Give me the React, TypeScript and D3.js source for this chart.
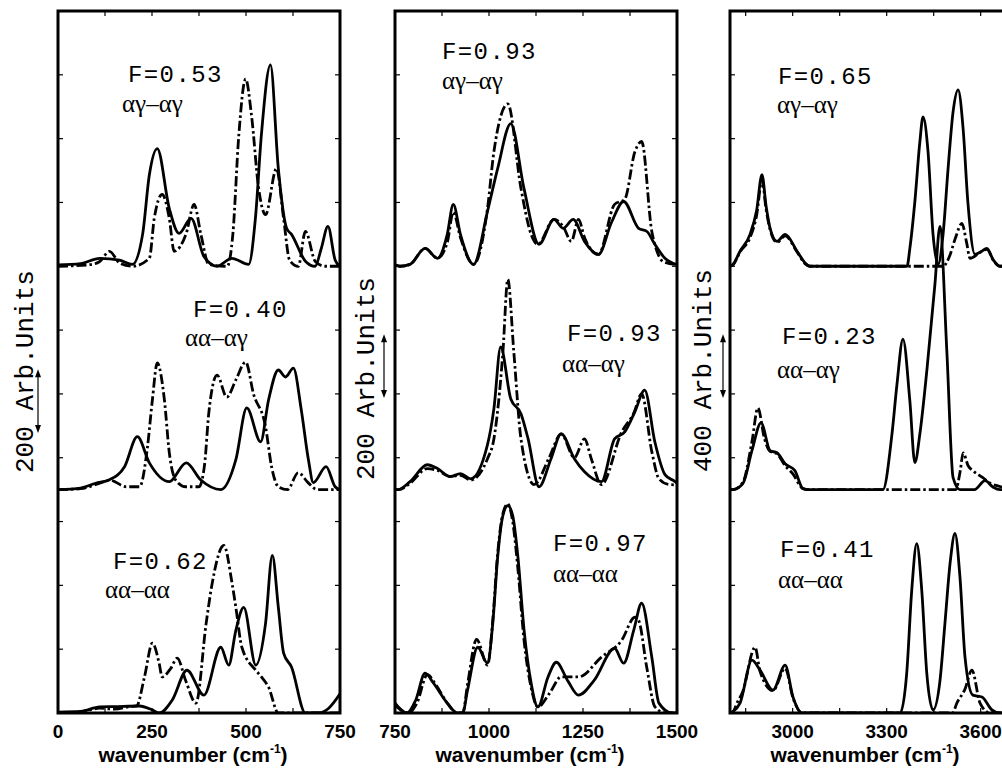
import * as d3 from "d3";

type Pt = [number, number];

// ---- panel 1 (0-750 cm-1), spectra as [wavenumber, intensity above own baseline]
const p1TopSolid: Pt[] = [[0,4],[60,8],[111,25],[164,19],[198,6],[225,100],[243,287],[264,369],[296,181],[322,103],[354,150],[388,31],[423,0],[462,25],[507,6],[525,150],[541,413],[565,631],[586,306],[608,119],[621,100],[658,16],[684,0],[700,55],[718,125],[737,20],[750,0]];
const p1TopDashed: Pt[] = [[0,0],[85,5],[111,15],[137,47],[164,10],[198,0],[243,25],[256,150],[277,225],[296,150],[309,47],[341,103],[362,194],[380,100],[401,6],[450,0],[465,100],[481,413],[499,587],[515,469],[533,250],[552,162],[581,306],[600,150],[616,19],[639,0],[658,109],[684,16],[710,0],[750,0]];
const p1MidSolid: Pt[] = [[0,0],[60,5],[100,20],[137,31],[177,72],[211,166],[243,84],[296,25],[341,84],[380,30],[433,0],[473,94],[502,256],[539,150],[560,281],[586,375],[605,353],[626,381],[647,250],[666,94],[679,22],[713,72],[737,9],[750,0]];
const p1MidDashed: Pt[] = [[0,0],[60,3],[111,20],[137,30],[182,9],[217,9],[238,134],[251,281],[264,397],[283,281],[296,116],[314,28],[340,9],[375,9],[390,80],[401,240],[423,359],[449,290],[473,344],[499,400],[520,300],[552,197],[568,72],[586,9],[610,0],[639,53],[665,22],[690,0],[750,0]];
const p1BotSolid: Pt[] = [[0,3],[60,5],[111,19],[150,20],[217,22],[250,10],[269,0],[304,41],[343,134],[388,56],[433,206],[454,150],[473,259],[494,331],[526,150],[552,281],[570,494],[586,331],[600,188],[621,144],[658,0],[692,0],[720,15],[750,60]];
const p1BotDashed: Pt[] = [[0,0],[60,3],[111,15],[150,12],[190,20],[209,22],[230,113],[251,219],[269,156],[277,113],[300,140],[317,172],[340,100],[367,31],[394,281],[410,406],[441,525],[463,406],[473,331],[489,206],[526,134],[541,113],[560,81],[586,0],[620,0],[750,0]];

// ---- panel 2 (750-1500 cm-1)
const p2TopSolid: Pt[] = [[750,5],[763,0],[790,6],[830,56],[863,25],[889,100],[905,194],[924,100],[959,6],[996,172],[1023,306],[1058,447],[1093,244],[1133,69],[1173,147],[1197,119],[1224,147],[1254,78],[1291,37],[1326,138],[1358,203],[1398,119],[1420,109],[1441,69],[1468,25],[1500,5]];
const p2TopDashed: Pt[] = [[750,5],[763,0],[790,6],[830,56],[863,25],[889,75],[905,170],[924,90],[959,6],[996,181],[1013,359],[1050,509],[1085,244],[1112,100],[1130,69],[1173,147],[1197,125],[1219,78],[1238,147],[1254,90],[1291,37],[1334,194],[1361,210],[1388,359],[1406,391],[1433,109],[1441,69],[1463,15],[1500,5]];
const p2MidSolid: Pt[] = [[750,0],[758,0],[790,25],[836,78],[863,66],[897,41],[924,50],[951,34],[996,141],[1013,253],[1031,447],[1058,284],[1085,238],[1104,159],[1133,9],[1165,97],[1192,175],[1227,97],[1254,56],[1299,25],[1334,159],[1361,181],[1388,244],[1414,312],[1441,150],[1468,47],[1495,25],[1500,20]];
const p2MidDashed: Pt[] = [[750,0],[760,0],[790,20],[836,66],[863,60],[897,41],[924,45],[951,30],[996,97],[1013,159],[1037,431],[1050,659],[1066,431],[1085,159],[1120,16],[1160,100],[1192,175],[1227,100],[1254,159],[1272,97],[1299,16],[1353,181],[1385,240],[1406,300],[1433,119],[1452,34],[1479,16],[1500,15]];
const p2BotSolid: Pt[] = [[750,31],[782,0],[805,40],[830,125],[852,94],[889,31],[916,0],[930,0],[943,72],[970,206],[996,156],[1010,281],[1023,488],[1037,619],[1050,650],[1063,619],[1077,488],[1093,263],[1112,94],[1130,19],[1157,113],[1179,159],[1210,100],[1238,56],[1280,103],[1334,203],[1358,156],[1385,260],[1406,344],[1433,175],[1452,31],[1487,0],[1500,0]];
const p2BotDashed: Pt[] = [[750,25],[785,0],[808,30],[836,120],[858,90],[889,31],[916,0],[930,0],[943,90],[967,231],[996,150],[1010,290],[1023,500],[1037,625],[1050,655],[1063,600],[1077,450],[1093,230],[1112,80],[1130,19],[1160,60],[1192,113],[1238,113],[1299,175],[1353,228],[1388,300],[1398,290],[1420,140],[1441,20],[1470,0],[1500,0]];

// ---- panel 3 (2800-3700 cm-1)
const p3TopSolid: Pt[] = [[2800,0],[2810,12],[2832,94],[2864,200],[2885,350],[2902,575],[2915,380],[2928,238],[2950,156],[2976,200],[3014,94],[3040,20],[3055,0],[3365,0],[3374,112],[3390,406],[3406,781],[3416,937],[3432,719],[3448,200],[3464,12],[3480,200],[3496,612],[3512,969],[3528,1106],[3544,862],[3559,406],[3582,75],[3600,90],[3620,112],[3640,40],[3662,0],[3700,0]];
const p3TopDashed: Pt[] = [[2800,0],[2810,10],[2832,90],[2864,180],[2885,320],[2902,540],[2915,360],[2928,230],[2950,150],[2976,190],[3014,90],[3040,15],[3055,0],[3480,0],[3500,60],[3520,180],[3540,269],[3555,150],[3566,50],[3600,90],[3620,106],[3640,40],[3662,0],[3700,0]];
const p3MidSolid: Pt[] = [[2800,0],[2810,0],[2841,37],[2870,244],[2899,419],[2928,244],[2950,231],[2976,162],[3007,119],[3033,6],[3050,0],[3288,0],[3317,350],[3333,662],[3352,944],[3374,556],[3390,169],[3406,350],[3429,762],[3454,1287],[3470,1650],[3492,869],[3512,75],[3534,0],[3580,0],[3614,56],[3640,15],[3662,0],[3700,0]];
const p3MidDashed: Pt[] = [[2800,0],[2810,0],[2841,45],[2870,300],[2889,512],[2910,320],[2928,240],[2950,225],[2976,150],[3000,100],[3033,6],[3050,0],[3520,0],[3535,120],[3544,231],[3560,150],[3575,119],[3607,75],[3630,40],[3652,25],[3700,0]];
const p3BotSolid: Pt[] = [[2800,0],[2810,10],[2832,62],[2870,331],[2896,269],[2937,144],[2976,300],[3001,100],[3030,0],[3343,0],[3364,250],[3380,769],[3396,1062],[3412,769],[3428,250],[3448,19],[3470,200],[3486,562],[3503,950],[3518,1125],[3534,850],[3550,350],[3575,112],[3604,100],[3636,19],[3660,0],[3700,0]];
const p3BotDashed: Pt[] = [[2800,0],[2810,8],[2822,62],[2840,130],[2880,412],[2896,260],[2937,140],[2976,280],[3001,95],[3030,0],[3510,0],[3524,62],[3550,150],[3572,269],[3598,62],[3630,0],[3700,0]];

// baselines of the three stacked spectra (bottom, middle, top)
const p1Offsets = [0, 700, 1400];
const p2Offsets = [0, 700, 1400];
const p3Offsets = [0, 1400, 2800];

// labels (bottom, middle, top)
const p1F = ["F=0.62", "F=0.40", "F=0.53"];
const p2F = ["F=0.97", "F=0.93", "F=0.93"];
const p3F = ["F=0.41", "F=0.23", "F=0.65"];
const pairs = ["αα–αα", "αα–αγ", "αγ–αγ"];

const p1TickLabels = [0, 250, 500, 750];
const p2TickLabels = [750, 1000, 1250, 1500];
const p3TickLabels = [3000, 3300, 3600];
const p1MinorTicks = [125, 250, 375, 500, 625];
const p2MinorTicks = [875, 1000, 1125, 1250, 1375];
const p3MinorTicks = [2850, 3000, 3150, 3300, 3450, 3600];

const scaleTexts = ["200 Arb.Units", "200 Arb.Units", "400 Arb.Units"];
const scaleBars = [200, 200, 400];

// ---- layout
const W = 1002;
const H = 772;
const top = 11;
const bottom = 713;
const panelW = 282;

const panels = [
  {
    left: 58, domain: [0, 750], yMax: 2200, yStep: 200,
    solids: [p1BotSolid, p1MidSolid, p1TopSolid],
    dashes: [p1BotDashed, p1MidDashed, p1TopDashed],
    offsets: p1Offsets, fLabels: p1F, ticks: p1TickLabels, minor: p1MinorTicks,
    fPos: [[113, 569, 105, 598], [193, 317, 185, 346], [128, 82, 122, 112]],
    labelX: 33, labelY: 473, arrowX: 38, arrowBottom: 433,
  },
  {
    left: 395, domain: [750, 1500], yMax: 2200, yStep: 200,
    solids: [p2BotSolid, p2MidSolid, p2TopSolid],
    dashes: [p2BotDashed, p2MidDashed, p2TopDashed],
    offsets: p2Offsets, fLabels: p2F, ticks: p2TickLabels, minor: p2MinorTicks,
    fPos: [[553, 551, 553, 582], [567, 341, 562, 372], [442, 59, 442, 89]],
    labelX: 374, labelY: 480, arrowX: 384, arrowBottom: 398,
  },
  {
    left: 730, domain: [2800, 3700], yMax: 4400, yStep: 400,
    solids: [p3BotSolid, p3MidSolid, p3TopSolid],
    dashes: [p3BotDashed, p3MidDashed, p3TopDashed],
    offsets: p3Offsets, fLabels: p3F, ticks: p3TickLabels, minor: p3MinorTicks,
    fPos: [[780, 557, 778, 588], [782, 344, 777, 378], [778, 84, 777, 113]],
    labelX: 711, labelY: 472, arrowX: 723, arrowBottom: 398,
  },
];

const mono = "'Liberation Mono', 'DejaVu Sans Mono', monospace";
const serif = "'Liberation Serif', 'DejaVu Serif', serif";
const sans = "'Liberation Sans', Arial, sans-serif";

const Panel = ({ p, i }: { p: (typeof panels)[number]; i: number }) => {
  const x = d3.scaleLinear().domain(p.domain).range([p.left, p.left + panelW]);
  const y = d3.scaleLinear().domain([0, p.yMax]).range([bottom, top]);
  const yTicks = d3.range(p.yStep, p.yMax, p.yStep);
  const clipId = `clip${i}`;
  const mk = (off: number) =>
    d3
      .line<Pt>()
      .x((d) => x(d[0]))
      .y((d) => y(d[1] + off))
      .curve(d3.curveMonotoneX);
  const barLen = y(0) - y(scaleBars[i]);
  const ay1 = p.arrowBottom - barLen;
  const ay2 = p.arrowBottom;
  return (
    <g>
      <defs>
        <clipPath id={clipId}>
          <rect x={p.left} y={top} width={panelW} height={bottom - top} />
        </clipPath>
      </defs>
      <g clipPath={`url(#${clipId})`}>
        {p.solids.map((s, k) => (
          <path key={"s" + k} d={mk(p.offsets[k])(s) ?? ""} fill="none" stroke="#000" strokeWidth={2.8} strokeLinejoin="round" />
        ))}
        {p.dashes.map((s, k) => (
          <path key={"d" + k} d={mk(p.offsets[k])(s) ?? ""} fill="none" stroke="#000" strokeWidth={2.8} strokeDasharray="10,3,2.5,3" />
        ))}
      </g>
      {/* frame and ticks */}
      <rect x={p.left} y={top} width={panelW} height={bottom - top} fill="none" stroke="#000" strokeWidth={3} />
      {yTicks.map((t) => (
        <g key={"yt" + t}>
          <line x1={p.left} x2={p.left + 5} y1={y(t)} y2={y(t)} stroke="#000" strokeWidth={1.2} />
          <line x1={p.left + panelW - 5} x2={p.left + panelW} y1={y(t)} y2={y(t)} stroke="#000" strokeWidth={1.2} />
        </g>
      ))}
      {p.minor.map((t) => (
        <g key={"xt" + t}>
          <line x1={x(t)} x2={x(t)} y1={top} y2={top + 5} stroke="#000" strokeWidth={1.2} />
          <line x1={x(t)} x2={x(t)} y1={bottom - 5} y2={bottom} stroke="#000" strokeWidth={1.2} />
        </g>
      ))}
      {p.ticks.map((t) => (
        <text key={"tl" + t} x={x(t)} y={738} textAnchor="middle" fontFamily={sans} fontWeight="bold" fontSize={19}>
          {t}
        </text>
      ))}
      <text x={p.left + panelW / 2 - 6} y={762} textAnchor="middle" fontFamily={sans} fontWeight="bold" fontSize={21}>
        wavenumber (cm<tspan fontSize={12} dy={-9}>-1</tspan><tspan dy={9}>)</tspan>
      </text>
      {/* F values and conformer pairs */}
      {p.fLabels.map((f, k) => (
        <g key={"f" + k}>
          <text x={p.fPos[k][0]} y={p.fPos[k][1]} fontFamily={mono} fontSize={24} letterSpacing={1.4}>
            {f}
          </text>
          <text x={p.fPos[k][2]} y={p.fPos[k][3]} fontFamily={serif} fontSize={25}>
            {pairs[k]}
          </text>
        </g>
      ))}
      {/* vertical scale label and arrow */}
      <text transform={`translate(${p.labelX},${p.labelY}) rotate(-90)`} fontFamily={mono} fontSize={26}>
        {scaleTexts[i]}
      </text>
      <line x1={p.arrowX} x2={p.arrowX} y1={ay1 + 4} y2={ay2 - 4} stroke="#000" strokeWidth={1.2} />
      <path d={`M${p.arrowX},${ay1} l-3,8 l6,0 z`} fill="#000" />
      <path d={`M${p.arrowX},${ay2} l-3,-8 l6,0 z`} fill="#000" />
    </g>
  );
};

export default function App() {
  return (
    <svg
      width={W}
      height={H}
      style={{ position: "absolute", left: 0, top: 0, background: "#fff" }}
    >
      <rect width={W} height={H} fill="#fff" />
      {panels.map((p, i) => (
        <Panel key={i} p={p} i={i} />
      ))}
    </svg>
  );
}
